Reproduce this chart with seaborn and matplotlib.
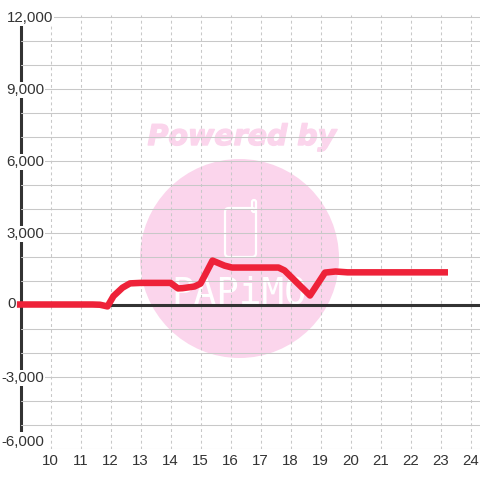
import matplotlib
matplotlib.use('Agg')
import matplotlib.pyplot as plt
import matplotlib.patheffects as pe
import matplotlib.transforms as mtrans
from matplotlib.patches import Circle, FancyBboxPatch
import pandas as pd
import seaborn as sns

# values
hours = [8.88, 11.4, 11.65, 11.9, 12.1, 12.4, 12.65, 13.0, 14.0, 14.25, 14.4, 14.8, 15.0,
         15.4, 15.8, 16.05, 16.5, 17.6, 17.8, 18.65, 19.15, 19.5, 19.9, 23.25]
values = [0, 0, -10, -80, 350, 700, 880, 900, 900, 670, 680, 750, 870,
          1830, 1620, 1540, 1540, 1540, 1420, 375, 1330, 1375, 1340, 1340]
x_ticks = list(range(10, 25))
y_ticks = [-6000, -3000, 0, 3000, 6000, 9000, 12000]
y_labels = ['-6,000', '-3,000', '0', '3,000', '6,000', '9,000', '12,000']

df = pd.DataFrame({'hour': hours, 'value': values})

sns.set_theme(style='whitegrid')
plt.rcParams['font.family'] = ['Liberation Sans', 'DejaVu Sans']

fig = plt.figure(figsize=(4.8, 4.8), dpi=100, facecolor='white')
# axes placed in pixels: 1 hour = 30 px, 1000 units = 24 px
left, right, top, bottom = 20.5, 480, 15, 449
ax = fig.add_axes([left / 480, 1 - bottom / 480, (right - left) / 480, (bottom - top) / 480])
ax.set_xlim(10 + (left - 50.5) / 30, 10 + (right - 50.5) / 30)
ax.set_ylim((304.5 - bottom) / 0.024, (304.5 - top) / 0.024)
ax.set_facecolor('white')
ax.set_axisbelow(True)

# watermark, in picture pixels
pix = mtrans.Affine2D().scale(1, -1).translate(0, 480)
pink = '#fbd5ec'
ax.add_patch(Circle((239.5, 258.5), 99.5, transform=pix, fc=pink, ec='none', zorder=0.1))
ax.add_patch(FancyBboxPatch((225, 208), 31, 49, boxstyle='round,pad=0,rounding_size=4', transform=pix,
                            fc='none', ec='white', lw=1.6, zorder=0.2))
ax.add_patch(FancyBboxPatch((252, 200), 4, 12, boxstyle='round,pad=0,rounding_size=2', transform=pix,
                            fc='none', ec='white', lw=1.6, zorder=0.2))
ax.text(239, 303, 'PAPiMO', transform=pix, family='DejaVu Sans Mono', size=27, color='white',
        ha='center', va='baseline', zorder=0.2)
ax.text(242, 145, 'Powered by', transform=pix, family='DejaVu Sans', weight='bold', style='italic',
        size=20.5, color=pink, ha='center', va='baseline', zorder=0.2,
        path_effects=[pe.withStroke(linewidth=1, foreground=pink)])

# axis lines
for s in ['top', 'right', 'bottom']:
    ax.spines[s].set_visible(False)
ax.spines['left'].set_color('#333333')
ax.spines['left'].set_linewidth(2.2)
ax.spines['left'].set_zorder(0.3)
ax.spines['left'].set_bounds(-5500, 12000)
ax.axhline(0, color='#333333', lw=2.2, zorder=1)

sns.lineplot(data=df, x='hour', y='value', color='#ee2239', linewidth=4.7, estimator=None, sort=False,
             solid_capstyle='butt', solid_joinstyle='round', zorder=2, clip_on=False, ax=ax)
ax.set_xlabel('')
ax.set_ylabel('')

ax.set_xticks(x_ticks)
ax.set_yticks(range(-6000, 12001, 1000), minor=True)
ax.set_yticks(y_ticks)
ax.set_yticklabels(y_labels)
ax.grid(True, axis='y', which='both', color='#c8c8c8', lw=0.75, ls='-')
ax.grid(True, axis='x', which='major', color='#c8c8c8', lw=0.75, ls=(0, (2.8, 2.8)))
ax.tick_params(axis='both', which='both', length=0)
ax.tick_params(axis='x', labelsize=10.8, labelcolor='#333333', pad=3.5)
ax.tick_params(axis='y', labelsize=10.8, labelcolor='#333333', pad=-17)

for lab, txt in zip(ax.get_yticklabels(), y_labels):
    lab.set_va('center')
    dx, dy = 0, -1.5
    pad = 1.0
    if txt == '12,000':
        dx = 9
    if txt == '-6,000':
        dy = 6.5
        pad = 2.0
    if txt == '0':
        dx, dy = -28, 0
    else:
        lab.set_bbox(dict(fc='white', ec='none', pad=pad))
    lab.set_transform(lab.get_transform() + mtrans.ScaledTranslation(dx / 100, dy / 100, fig.dpi_scale_trans))

fig.savefig('out.png', dpi=100, facecolor='white')
